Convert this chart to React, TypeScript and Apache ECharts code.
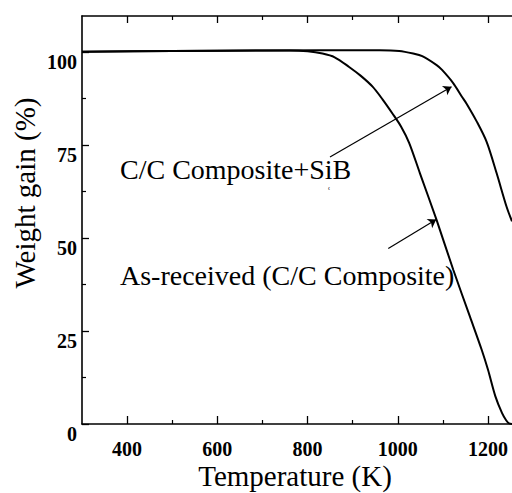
import React, { useEffect, useRef } from "react";
import * as echarts from "echarts";

const xTickLabels = [400, 600, 800, 1000, 1200];
const xMinorTicks = [500, 700, 900, 1100];
const yTickLabels = [0, 25, 50, 75, 100];
const yMinorTicks = [12.5, 37.5, 62.5, 87.5];

const asReceived: [number, number][] = [
  [300, 100.1], [500, 100.3], [700, 100.4], [760, 100.4], [800, 100.2],
  [833, 99.6], [860, 98.6], [892, 96.0], [918, 93.6], [944, 90.7],
  [966, 87.3], [988, 83.5], [1007, 80.0], [1025, 75.6], [1049, 67.4],
  [1086, 54.8], [1123, 41.4], [1160, 28.8], [1186, 19.9], [1200, 14.5],
  [1216, 7.5], [1231, 2.9], [1240, 1.0], [1246, 0.2], [1253, 0],
];

const withSiB: [number, number][] = [
  [300, 100.1], [500, 100.3], [700, 100.4], [960, 100.5], [1003, 100.3],
  [1034, 99.6], [1054, 98.9], [1086, 96.5], [1098, 95.2], [1123, 91.6],
  [1142, 88.0], [1152, 86.2], [1175, 81.3], [1197, 75.8], [1219, 67.4],
  [1241, 58.4], [1253, 54.5],
];

const arrowSiB: [[number, number], [number, number]] = [[849.6, 71.8], [1119, 90.7]];
const arrowAsReceived: [[number, number], [number, number]] = [[978.8, 47.2], [1085, 55.0]];

const serif = "Times New Roman, Liberation Serif, serif";

export default function App() {
  const ref = useRef<HTMLDivElement>(null);
  useEffect(() => {
    if (!ref.current) return;
    const chart = echarts.init(ref.current, undefined, { renderer: "svg" });
    const xMin = 300, xMax = 1253, yMin = 0, yMax = 109.7;
    const black = "#000";
    const baseX = {
      type: "value" as const,
      min: xMin,
      max: xMax,
      splitLine: { show: false },
    };
    const baseY = {
      type: "value" as const,
      min: yMin,
      max: yMax,
      splitLine: { show: false },
    };
    const textStyle = (size: number) => ({
      fill: black,
      fontFamily: serif,
      fontSize: size,
    });
    chart.setOption({
      animation: false,
      backgroundColor: "#fff",
      textStyle: { fontFamily: serif },
      grid: { left: 82, right: 0, top: 16, bottom: 69, containLabel: false },
      xAxis: [
        {
          ...baseX,
          position: "bottom",
          axisLine: { show: true, lineStyle: { color: black, width: 1.6 } },
          axisTick: { show: true, inside: true, length: 8, customValues: xTickLabels, lineStyle: { color: black, width: 1.3 } },
          axisLabel: {
            show: true,
            customValues: xTickLabels,
            formatter: (v: number) => String(v),
            margin: 15,
            color: black,
            fontFamily: serif,
            fontWeight: "bold",
            fontSize: 20,
          },
        },
        {
          ...baseX,
          position: "bottom",
          axisLine: { show: false },
          axisTick: { show: true, inside: true, length: 4, customValues: xMinorTicks, lineStyle: { color: black, width: 1.2 } },
          axisLabel: { show: false },
        },
        {
          ...baseX,
          position: "top",
          axisLine: { show: true, lineStyle: { color: black, width: 1.6 } },
          axisTick: { show: true, inside: true, length: 7, customValues: xTickLabels, lineStyle: { color: black, width: 1.3 } },
          axisLabel: { show: false },
        },
        {
          ...baseX,
          position: "top",
          axisLine: { show: false },
          axisTick: { show: true, inside: true, length: 4, customValues: xMinorTicks, lineStyle: { color: black, width: 1.2 } },
          axisLabel: { show: false },
        },
      ],
      yAxis: [
        {
          ...baseY,
          position: "left",
          axisLine: { show: true, lineStyle: { color: black, width: 1.6 } },
          axisTick: { show: true, inside: true, length: 7, customValues: yTickLabels, lineStyle: { color: black, width: 1.3 } },
          axisLabel: {
            show: true,
            customValues: yTickLabels,
            formatter: (v: number) => String(v),
            margin: 5,
            color: black,
            fontFamily: serif,
            fontWeight: "bold",
            fontSize: 20,
            verticalAlign: "top",
          },
        },
        {
          ...baseY,
          position: "left",
          axisLine: { show: false },
          axisTick: { show: true, inside: true, length: 4, customValues: yMinorTicks, lineStyle: { color: black, width: 1.2 } },
          axisLabel: { show: false },
        },
      ],
      series: [
        {
          name: "As-received (C/C Composite)",
          type: "line",
          xAxisIndex: 0,
          yAxisIndex: 0,
          data: asReceived,
          showSymbol: false,
          smooth: 0.3,
          lineStyle: { color: black, width: 2 },
          markLine: {
            silent: true,
            symbol: ["none", "arrow"],
            symbolSize: 8,
            lineStyle: { color: black, width: 1.2, type: "solid" },
            label: { show: false },
            data: [
              [{ coord: arrowSiB[0] }, { coord: arrowSiB[1] }],
              [{ coord: arrowAsReceived[0] }, { coord: arrowAsReceived[1] }],
            ],
          },
        },
        {
          name: "C/C Composite+SiB",
          type: "line",
          xAxisIndex: 0,
          yAxisIndex: 0,
          data: withSiB,
          showSymbol: false,
          smooth: 0.3,
          lineStyle: { color: black, width: 2 },
        },
      ],
      graphic: [
        {
          type: "text",
          x: 25,
          y: 193,
          rotation: Math.PI / 2,
          style: {
            text: "Weight gain (%)",
            ...textStyle(29),
            align: "center",
            verticalAlign: "middle",
          },
        },
        {
          type: "text",
          x: 295,
          y: 476,
          style: {
            text: "Temperature (K)",
            ...textStyle(29),
            align: "center",
            verticalAlign: "middle",
          },
        },
        {
          type: "text",
          x: 120,
          y: 169,
          style: {
            text: "C/C Composite+SiB",
            ...textStyle(28),
            align: "left",
            verticalAlign: "middle",
          },
        },
        {
          type: "text",
          x: 329,
          y: 191,
          style: {
            text: "ʿ",
            ...textStyle(13),
            align: "center",
            verticalAlign: "middle",
          },
        },
        {
          type: "text",
          x: 120,
          y: 275,
          style: {
            text: "As-received (C/C Composite)",
            ...textStyle(28),
            align: "left",
            verticalAlign: "middle",
          },
        },
      ],
    });
    return () => chart.dispose();
  }, []);
  return (
    <div
      ref={ref}
      style={{ position: "fixed", left: 0, top: 0, width: 512, height: 493, background: "#fff" }}
    />
  );
}
